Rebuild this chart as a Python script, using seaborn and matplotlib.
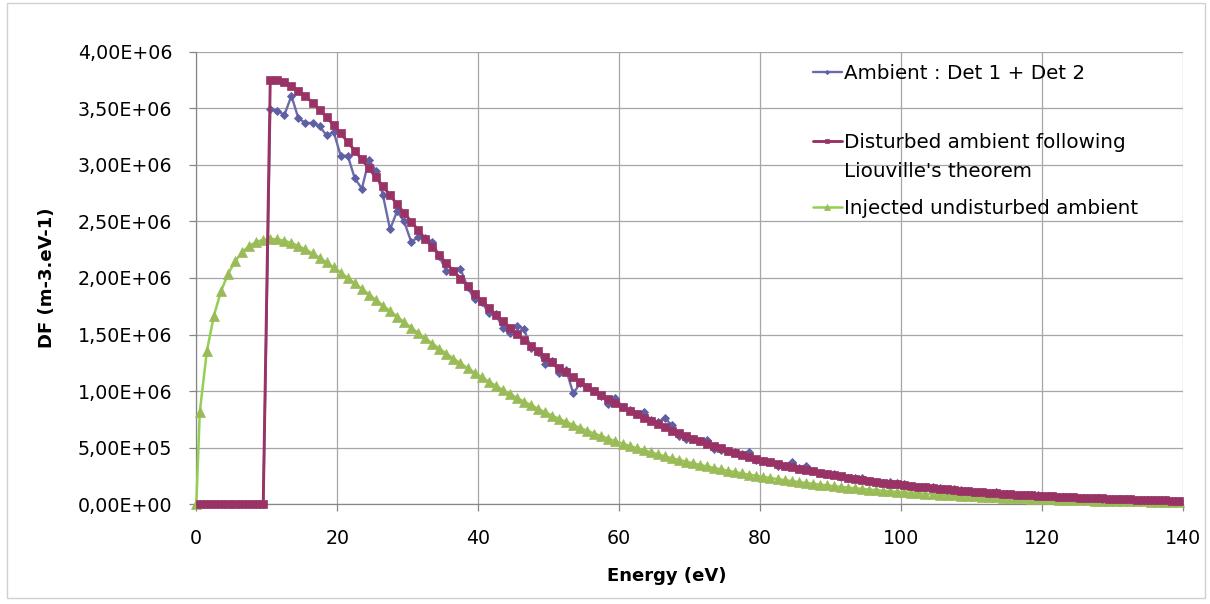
import numpy as np
import pandas as pd
import matplotlib
matplotlib.use("Agg")
import matplotlib.pyplot as plt
import seaborn as sns
from matplotlib.ticker import FuncFormatter, MultipleLocator
from matplotlib.lines import Line2D
from matplotlib.patches import Rectangle

# ---------------- data (values in units of 1E+06 m-3.eV-1) ----------------
energy = [0.0] + list(np.arange(0.5, 140.0, 1.0))   # bin centres (eV)

injected = [
    0, 0.819, 1.354, 1.667, 1.882, 2.036, 2.147, 2.227, 2.283, 2.318, 2.338,
    2.345, 2.342, 2.329, 2.310, 2.283, 2.253, 2.217, 2.179, 2.137, 2.093,
    2.048, 2.000, 1.952, 1.904, 1.854, 1.805, 1.756, 1.706, 1.657, 1.609,
    1.561, 1.513, 1.466, 1.420, 1.375, 1.331, 1.288, 1.245, 1.204, 1.163,
    1.124, 1.085, 1.048, 1.011, 0.976, 0.941, 0.908, 0.876, 0.844, 0.814,
    0.784, 0.755, 0.728, 0.701, 0.675, 0.650, 0.625, 0.602, 0.579, 0.557,
    0.536, 0.516, 0.496, 0.477, 0.459, 0.441, 0.424, 0.407, 0.392, 0.376,
    0.362, 0.348, 0.334, 0.321, 0.308, 0.296, 0.284, 0.273, 0.262, 0.252,
    0.2415, 0.2318, 0.2225, 0.2136, 0.2049, 0.1967, 0.1887, 0.1812, 0.1739, 0.1667,
    0.1600, 0.1535, 0.1473, 0.1412, 0.1355, 0.1299, 0.1247, 0.1195, 0.1146, 0.1100,
    0.1053, 0.1010, 0.0968, 0.0929, 0.0890, 0.0853, 0.0818, 0.0784, 0.0751, 0.0720,
    0.0691, 0.0661, 0.0634, 0.0608, 0.0582, 0.0558, 0.0535, 0.0512, 0.0491, 0.0470,
    0.0450, 0.0431, 0.0413, 0.0396, 0.0379, 0.0363, 0.0348, 0.0333, 0.0320, 0.0306,
    0.0293, 0.0280, 0.0269, 0.0258, 0.0246, 0.0236, 0.0225, 0.0216, 0.0207, 0.0199,
]

# the two other series start at the first bin centre (0.5 eV)
disturbed = [0] * 10 + [
    3.753, 3.749, 3.728, 3.697, 3.654, 3.606, 3.549, 3.488, 3.420, 3.350,
    3.278, 3.201, 3.124, 3.048, 2.968, 2.889, 2.811, 2.731, 2.652, 2.575,
    2.499, 2.422, 2.346, 2.273, 2.201, 2.130, 2.062, 1.993, 1.927, 1.861,
    1.799, 1.737, 1.677, 1.618, 1.562, 1.506, 1.453, 1.402, 1.351, 1.303,
    1.255, 1.208, 1.165, 1.122, 1.080, 1.040, 1.000, 0.964, 0.927, 0.892,
    0.858, 0.826, 0.794, 0.763, 0.735, 0.706, 0.679, 0.651, 0.627, 0.602,
    0.579, 0.557, 0.535, 0.514, 0.493, 0.474, 0.455, 0.437, 0.419, 0.403,
    0.3865, 0.3710, 0.3561, 0.3419, 0.3280, 0.3148, 0.3020, 0.2900, 0.2783, 0.2668,
    0.2561, 0.2457, 0.2358, 0.2260, 0.2169, 0.2079, 0.1996, 0.1913, 0.1834, 0.1761,
    0.1685, 0.1617, 0.1549, 0.1487, 0.1425, 0.1365, 0.1309, 0.1255, 0.1202, 0.1152,
    0.1106, 0.1058, 0.1015, 0.0973, 0.0932, 0.0893, 0.0856, 0.0820, 0.0786, 0.0752,
    0.0720, 0.0690, 0.0661, 0.0634, 0.0607, 0.0581, 0.0557, 0.0533, 0.0512, 0.0490,
    0.0469, 0.0448, 0.0431, 0.0413, 0.0394, 0.0378, 0.0360, 0.0346, 0.0331, 0.0319,
]

ambient = [0] * 10 + [
    3.49, 3.48, 3.44, 3.61, 3.41, 3.37, 3.37, 3.34, 3.26, 3.29,
    3.08, 3.08, 2.88, 2.79, 3.04, 2.95, 2.73, 2.43, 2.59, 2.50,
    2.32, 2.36, 2.35, 2.32, 2.19, 2.06, 2.06, 2.08, 1.92, 1.81,
    1.79, 1.69, 1.68, 1.56, 1.51, 1.58, 1.55, 1.38, 1.35, 1.24,
    1.27, 1.16, 1.19, 0.98, 1.07, 1.04, 1.00, 0.96, 0.89, 0.94,
    0.86, 0.83, 0.80, 0.82, 0.745, 0.73, 0.76, 0.70, 0.60, 0.58,
    0.58, 0.56, 0.57, 0.49, 0.48, 0.475, 0.465, 0.44, 0.46, 0.39,
    0.38, 0.37, 0.335, 0.34, 0.37, 0.32, 0.335, 0.29, 0.28, 0.265,
    0.27, 0.245, 0.235, 0.23, 0.235, 0.205, 0.20, 0.19, 0.195, 0.19,
    0.18, 0.165, 0.155, 0.155, 0.15, 0.14, 0.13, 0.135, 0.13, 0.115,
    0.11, 0.105, 0.10, 0.105, 0.093, 0.09, 0.085, 0.08, 0.078, 0.082,
    0.072, 0.069, 0.066, 0.063, 0.061, 0.058, 0.056, 0.055, 0.051, 0.049,
    0.047, 0.045, 0.043, 0.041, 0.039, 0.038, 0.036, 0.035, 0.033, 0.032,
]

labels = ["Ambient : Det 1 + Det 2",
          "Disturbed ambient following\nLiouville's theorem",
          "Injected undisturbed ambient"]
x_ticks = [0, 20, 40, 60, 80, 100, 120, 140]
unit = 1e6

# ---------------- styling ----------------
sns.set_theme(style="white")
plt.rcParams["font.family"] = ["DejaVu Sans"]
plt.rcParams["text.color"] = "black"
plt.rcParams["axes.labelcolor"] = "black"

fig = plt.figure(figsize=(12.10, 6.04), dpi=100)
ax = fig.add_axes([0.16223, 0.1651, 0.81513, 0.7493])

df_amb = pd.DataFrame({"E": energy[1:], "DF": np.array(ambient) * unit})
df_dis = pd.DataFrame({"E": energy[1:], "DF": np.array(disturbed) * unit})
df_inj = pd.DataFrame({"E": energy, "DF": np.array(injected) * unit})

sns.lineplot(data=df_inj, x="E", y="DF", ax=ax, estimator=None, sort=False,
             color="#92D050", linewidth=1.8, marker="^", markersize=7.4,
             markerfacecolor="#9BBB59", markeredgecolor="#9BBB59",
             markeredgewidth=0.5, zorder=3, clip_on=False)
sns.lineplot(data=df_amb, x="E", y="DF", ax=ax, estimator=None, sort=False,
             color="#6B6BAA", linewidth=1.7, marker="D", markersize=3.9,
             markerfacecolor="#5F60A4", markeredgecolor="#5F60A4",
             markeredgewidth=0.6, zorder=4, clip_on=False)
sns.lineplot(data=df_dis, x="E", y="DF", ax=ax, estimator=None, sort=False,
             color="#993366", linewidth=2.1, marker="s", markersize=5.2,
             markerfacecolor="#993366", markeredgecolor="#993366",
             markeredgewidth=0.5, zorder=5, clip_on=False)
if ax.get_legend() is not None:
    ax.get_legend().remove()

line_inj, line_amb, line_dis = ax.get_lines()[:3]

ax.set_xlim(0, 140)
ax.set_ylim(0, 4e6)
ax.set_xticks(x_ticks)
ax.yaxis.set_major_locator(MultipleLocator(0.5e6))
ax.yaxis.set_major_formatter(FuncFormatter(lambda v, p: f"{v:.2E}".replace(".", ",")))

ax.grid(True, color="#A6A6A6", linewidth=0.9)
ax.set_axisbelow(True)
for s in ["top", "right"]:
    ax.spines[s].set_visible(False)
for s in ["left", "bottom"]:
    ax.spines[s].set_color("#868686")
    ax.spines[s].set_linewidth(0.9)

ax.tick_params(axis="both", direction="out", length=4.7, width=0.9,
               color="#868686", labelsize=13.7, labelcolor="black",
               bottom=True, left=True)
ax.tick_params(axis="y", pad=12.7)
ax.tick_params(axis="x", pad=13.0)

ax.set_xlabel("Energy (eV)", fontsize=13, fontweight="bold", color="black")
ax.set_ylabel("DF (m-3.eV-1)", fontsize=13, fontweight="bold", color="black")
ax.xaxis.set_label_coords(0.4772, -0.1584)
ax.xaxis.label.set_va("center")
ax.yaxis.set_label_coords(-0.1514, 0.5)
ax.yaxis.label.set_va("center")

# ---------------- legend (three blocks, as in the original layout) ----------------
common = dict(frameon=False, handlelength=1.45, handletextpad=0.1, borderpad=0,
              borderaxespad=0, markerscale=0.55, fontsize=14.3, loc="center left",
              labelcolor="black", bbox_transform=fig.transFigure)
leg1 = ax.legend([line_amb], [labels[0]], bbox_to_anchor=(0.6719, 0.878), **common)
ax.add_artist(leg1)
blank = Line2D([], [], color="none", marker=None)
first, second = labels[1].split("\n")
leg2 = ax.legend([line_dis, blank], [first, second], labelspacing=0.5,
                 bbox_to_anchor=(0.6719, 0.7405), **common)
ax.add_artist(leg2)
leg3 = ax.legend([line_inj], [labels[2]], bbox_to_anchor=(0.6719, 0.6556), **common)

# outer chart border
fig.patches.append(Rectangle((7 / 1210, 1 - 598 / 604), (1205 - 7) / 1210, (598 - 3) / 604,
                             transform=fig.transFigure, fill=False,
                             edgecolor="#D0D0D0", linewidth=1.0))

fig.savefig("out.png", dpi=100)
